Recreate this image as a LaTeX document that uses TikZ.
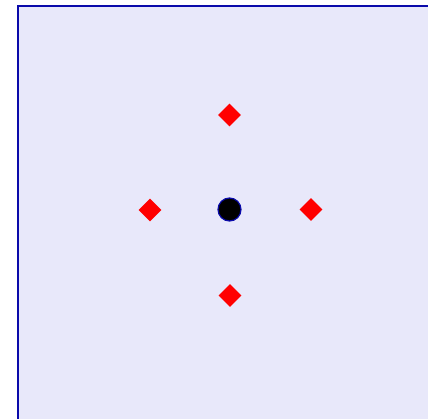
\documentclass[tikz,border=0pt]{standalone}
\usetikzlibrary{shapes.geometric}
\definecolor{lav}{RGB}{232,232,250}
\definecolor{edgeblue}{RGB}{10,10,170}
\tikzset{
  px/.style={x=1pt,y=-1pt},
  marker/.style={shape=diamond,fill=red,draw=none,inner sep=0pt,minimum width=23pt,minimum height=23pt},
  hub/.style={shape=circle,fill=black,draw=edgeblue,line width=1.2pt,inner sep=0pt,minimum size=23pt}
}
\begin{document}
\begin{tikzpicture}[px]
\useasboundingbox (0,0) rectangle (428,419);
\clip (0,0) rectangle (428,419);
\fill[white] (0,0) rectangle (428,419);
\draw[fill=lav,draw=edgeblue,line width=2pt] (18,6) rectangle (440,430);
\node[hub] (c) at (229.5,209.5) {};
\node[marker] (t) at (229.5,115) {};
\node[marker] (l) at (150,210) {};
\node[marker] (r) at (311,209.5) {};
\node[marker] (b) at (230,295.5) {};
\end{tikzpicture}
\end{document}
